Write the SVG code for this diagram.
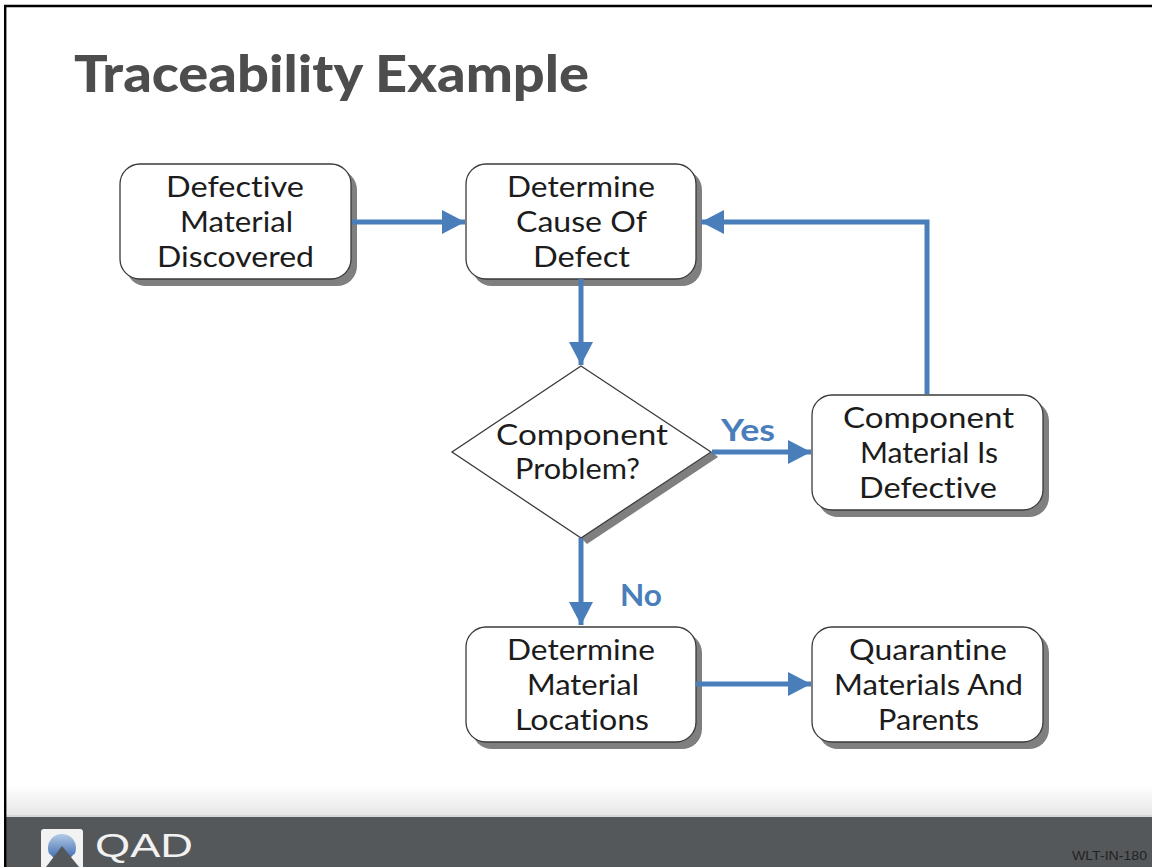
<svg xmlns="http://www.w3.org/2000/svg" width="1152" height="867" viewBox="0 0 1152 867">
<defs>
<marker id="arrow" markerUnits="userSpaceOnUse" markerWidth="24" markerHeight="24" refX="23" refY="12" orient="auto"><path d="M0,0 L23,12 L0,24 Z" fill="#4a7ebb"/></marker>
<linearGradient id="fade" x1="0" y1="0" x2="0" y2="1"><stop offset="0" stop-color="#ffffff"/><stop offset="1" stop-color="#e6e6e6"/></linearGradient>
<linearGradient id="orb" x1="0" y1="0" x2="0" y2="1"><stop offset="0" stop-color="#b4cbe6"/><stop offset="1" stop-color="#2f5fa8"/></linearGradient>
</defs>
<style>
.box{fill:#fff;stroke:#3a3a3a;stroke-width:1.3}
.shadow{fill:#7f7f7f}
text{font-variant-ligatures:none}
.t{font-family:"Lato","Liberation Sans",sans-serif;font-size:28.5px;fill:#1c1c1c}
.lab{font-family:"Lato","Liberation Sans",sans-serif;font-size:30px;font-weight:700;fill:#4a7ebb}
.c{fill:none;stroke:#4a7ebb;stroke-width:5;marker-end:url(#arrow)}
</style>
<rect width="1152" height="867" fill="#fff"/>
<rect x="5" y="785" width="1147" height="31" fill="url(#fade)"/>
<rect x="5" y="816" width="1147" height="51" fill="#54585a"/>
<rect x="5" y="815" width="1147" height="2" fill="#d8d8d8"/>
<path d="M5.2,867 V6 H1152" fill="none" stroke="#000" stroke-width="2.4"/>
<text x="74" y="92" font-family="Lato,'Liberation Sans',sans-serif" font-size="52" font-weight="900" fill="#4d4d4d" textLength="515" lengthAdjust="spacingAndGlyphs">Traceability Example</text>

<g id="n1"><rect class="shadow" x="126" y="170" width="231" height="116" rx="20"/><rect class="box" x="120" y="164" width="231" height="115" rx="20"/>
<text class="t" x="166" y="197" textLength="138" lengthAdjust="spacingAndGlyphs">Defective</text>
<text class="t" x="180" y="232" textLength="113" lengthAdjust="spacingAndGlyphs">Material</text>
<text class="t" x="157" y="267" textLength="157" lengthAdjust="spacingAndGlyphs">Discovered</text></g>
<g id="n2"><rect class="shadow" x="472" y="170" width="230" height="116" rx="20"/><rect class="box" x="466" y="164" width="230" height="115" rx="20"/>
<text class="t" x="507" y="197" textLength="148" lengthAdjust="spacingAndGlyphs">Determine</text>
<text class="t" x="516" y="232" textLength="131" lengthAdjust="spacingAndGlyphs">Cause Of</text>
<text class="t" x="533" y="267" textLength="97" lengthAdjust="spacingAndGlyphs">Defect</text></g>
<g id="n3"><path class="shadow" d="M712,452 L718,457 L587,544 L581,538 Z"/><path class="box" d="M581,366 L711,452 L581,538 L452,452 Z"/>
<text class="t" x="496" y="445" textLength="172" lengthAdjust="spacingAndGlyphs">Component</text>
<text class="t" x="515" y="479" textLength="125" lengthAdjust="spacingAndGlyphs">Problem?</text></g>
<g id="n4"><rect class="shadow" x="818" y="401" width="231" height="116" rx="20"/><rect class="box" x="812" y="395" width="231" height="115" rx="20"/>
<text class="t" x="843" y="428" textLength="171" lengthAdjust="spacingAndGlyphs">Component</text>
<text class="t" x="860" y="463" textLength="138" lengthAdjust="spacingAndGlyphs">Material Is</text>
<text class="t" x="859" y="498" textLength="138" lengthAdjust="spacingAndGlyphs">Defective</text></g>
<g id="n5"><rect class="shadow" x="472" y="633" width="230" height="116" rx="20"/><rect class="box" x="466" y="627" width="230" height="115" rx="20"/>
<text class="t" x="507" y="660" textLength="148" lengthAdjust="spacingAndGlyphs">Determine</text>
<text class="t" x="527" y="695" textLength="112" lengthAdjust="spacingAndGlyphs">Material</text>
<text class="t" x="515" y="730" textLength="134" lengthAdjust="spacingAndGlyphs">Locations</text></g>
<g id="n6"><rect class="shadow" x="818" y="633" width="231" height="116" rx="20"/><rect class="box" x="812" y="627" width="231" height="115" rx="20"/>
<text class="t" x="849" y="660" textLength="158" lengthAdjust="spacingAndGlyphs">Quarantine</text>
<text class="t" x="834" y="695" textLength="189" lengthAdjust="spacingAndGlyphs">Materials And</text>
<text class="t" x="878" y="730" textLength="101" lengthAdjust="spacingAndGlyphs">Parents</text></g>

<g id="connectors">
<path class="c" d="M352,222 H465"/>
<path class="c" d="M581,279 V365"/>
<path class="c" d="M712,452 H811"/>
<path class="c" d="M581,538 V625"/>
<path class="c" d="M696,684 H811"/>
<path class="c" d="M927,394 V222 H701"/>
</g>
<text class="lab" x="721" y="441" textLength="54" lengthAdjust="spacingAndGlyphs">Yes</text>
<text class="lab" x="620" y="606" textLength="42" lengthAdjust="spacingAndGlyphs">No</text>

<g id="logo">
<rect x="41" y="829" width="42" height="38" rx="3" fill="#f2f2f2"/>
<circle cx="62" cy="848" r="14" fill="url(#orb)"/>
<path d="M41,867 V862 L50,854 L62,867 L74,854 L83,862 V867 Z" fill="#f2f2f2"/>
<path d="M46,867 L62,846 L79,867 Z" fill="#54585a"/>
</g>
<text x="95" y="857" font-family="'Liberation Sans',sans-serif" font-size="33.5" fill="#f2f2f2" textLength="98" lengthAdjust="spacingAndGlyphs">QAD</text>
<text x="1072" y="860" font-family="'Liberation Sans',sans-serif" font-size="12" fill="#222" textLength="75" lengthAdjust="spacingAndGlyphs">WLT-IN-180</text>
</svg>
